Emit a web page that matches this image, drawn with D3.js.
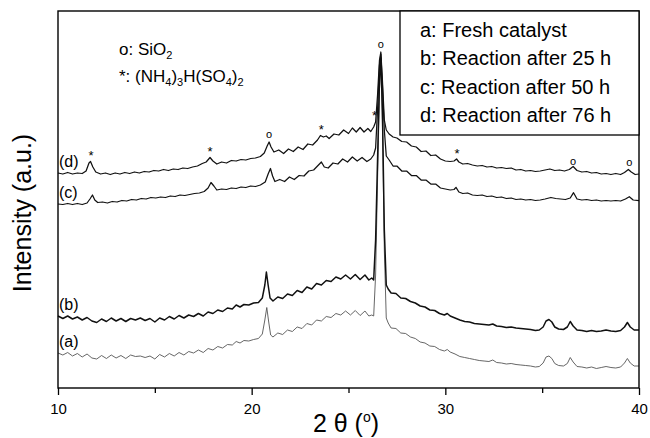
<!DOCTYPE html>
<html><head><meta charset="utf-8">
<script src="https://cdn.jsdelivr.net/npm/d3@7"></script>
<style>body{margin:0;background:#fff} svg{display:block} text{font-family:"Liberation Sans",Arial,sans-serif;fill:#000}</style>
</head><body><svg id="c" width="650" height="438"></svg>
<script>
// ---- data (2θ in degrees, intensity in arbitrary units) ----
const xTicks = [10, 20, 30, 40];
const xMinorTicks = [15, 25, 35];
const yDomain = [12, 389];
const legendLabels = ["a: Fresh catalyst", "b: Reaction after 25 h", "c: Reaction after 50 h", "d: Reaction after 76 h"];
const curveNames = ["(a)", "(b)", "(c)", "(d)"];
const curveLabelPos = [[10.05, 53], [10.05, 90], [10.05, 202], [10.05, 233]];

const curveA = [[10,47],[10.25,45],[10.5,47.5],[10.75,44],[11,46.5],[11.25,43],[11.5,46],[11.75,42],[12,41],[12.25,44.5],[12.5,41.5],[12.75,45],[13,42],[13.25,44.5],[13.5,41.5],[13.75,45],[14,43.5],[14.25,44],[14.5,42.5],[14.75,44],[15,41],[15.25,45.5],[15.5,43],[15.75,46.5],[16,44],[16.25,47.5],[16.5,45],[16.75,48.5],[17,47],[17.25,50],[17.5,47.5],[17.75,51.5],[18,50],[18.25,53.5],[18.5,52],[18.75,55.5],[19,55],[19.2,58.5],[19.4,57],[19.6,59.5],[19.85,59],[20.1,60.5],[20.35,61.5],[20.55,66],[20.68,80],[20.78,92.5],[20.88,78],[20.98,65],[21.1,63],[21.35,67],[21.6,65.5],[21.85,70],[22.1,68.5],[22.35,73],[22.6,71.5],[22.85,76.5],[23.1,75],[23.35,80],[23.6,79],[23.85,83.5],[24.1,82.5],[24.35,86.5],[24.6,85],[24.85,89],[25.1,85],[25.35,89.5],[25.6,84.5],[25.85,89],[26.05,84],[26.2,85],[26.3,84],[26.4,125],[26.5,220],[26.6,310],[26.67,338],[26.75,280],[26.85,150],[26.95,82],[27.05,77],[27.2,72],[27.45,71.5],[27.7,67],[27.95,66.5],[28.2,63],[28.45,61.5],[28.7,58],[28.95,57],[29.2,54],[29.45,53.5],[29.7,50.5],[29.95,49],[30.1,50.5],[30.25,48],[30.5,46],[30.75,43.5],[31,42.5],[31.25,41.5],[31.5,40.5],[31.75,39.5],[32,39],[32.25,38.5],[32.45,40],[32.65,37.5],[32.9,37],[33.15,36],[33.4,36.5],[33.65,35.5],[33.9,35],[34.15,34.5],[34.4,34],[34.65,33],[34.85,33.5],[35.05,37],[35.2,43],[35.35,44],[35.5,41.5],[35.65,36.5],[35.85,34.5],[36.1,34],[36.3,36.5],[36.45,42.5],[36.6,38],[36.8,33.5],[37.05,33],[37.3,32],[37.55,33],[37.8,31.5],[38.05,32.5],[38.3,33.5],[38.55,32.5],[38.8,32],[39.05,33],[39.25,37],[39.4,41.5],[39.55,37],[39.75,34],[40,34]];

const curveB = [[10,84],[10.25,81.5],[10.5,84],[10.75,81],[11,83],[11.25,80],[11.5,82.5],[11.75,79],[12,77.5],[12.25,81],[12.5,78.5],[12.75,82],[13,79],[13.25,81.5],[13.5,78.5],[13.75,81.5],[14,80],[14.25,82],[14.5,79.5],[14.75,81.5],[15,78],[15.25,82],[15.5,80],[15.75,83.5],[16,81],[16.25,84.5],[16.5,82],[16.75,85],[17,83.5],[17.25,86.5],[17.5,84],[17.75,88],[18,86.5],[18.25,90],[18.5,88.5],[18.75,92],[19,91],[19.2,95],[19.4,93],[19.6,95.5],[19.85,95],[20.1,97],[20.35,97.5],[20.55,102],[20.68,115],[20.76,128],[20.85,115],[20.95,102],[21.1,99],[21.35,103],[21.6,101.5],[21.85,106],[22.1,104.5],[22.35,109.5],[22.6,107.5],[22.85,113],[23.1,111],[23.35,116.5],[23.6,115],[23.85,119.5],[24.1,118.5],[24.35,123],[24.6,121],[24.85,125],[25.1,121],[25.35,125.5],[25.6,120.5],[25.85,125],[26.05,120],[26.2,122],[26.3,120],[26.4,160],[26.5,240],[26.6,320],[26.67,342],[26.75,290],[26.85,170],[26.95,115],[27.05,111],[27.2,107],[27.45,106.5],[27.7,102],[27.95,101.5],[28.2,98.5],[28.45,97],[28.7,94],[28.95,93],[29.2,90],[29.45,89.5],[29.7,86.5],[29.95,85],[30.1,86.5],[30.25,84],[30.5,82],[30.75,80],[31,78.5],[31.25,78],[31.5,76.5],[31.75,76],[32,75.5],[32.25,75],[32.45,76],[32.65,74],[32.9,73.5],[33.15,72.5],[33.4,73],[33.65,72],[33.9,71.5],[34.15,71],[34.4,70.5],[34.65,69.5],[34.85,70],[35.05,73],[35.2,79],[35.35,80.5],[35.5,78],[35.65,73],[35.85,71],[36.1,70.5],[36.3,73],[36.45,78.5],[36.6,74],[36.8,70],[37.05,69.5],[37.3,68.5],[37.55,69.5],[37.8,68.5],[38.05,69],[38.3,70],[38.55,69],[38.8,68.5],[39.05,69.5],[39.25,73],[39.4,77.5],[39.55,73],[39.75,70],[40,70]];

const curveC = [[10,196],[10.25,195.5],[10.5,196.5],[10.75,195.5],[11,196.5],[11.25,195.5],[11.5,197],[11.65,201],[11.78,205],[11.9,200],[12.05,197.5],[12.3,198],[12.55,197],[12.8,198.5],[13.05,198],[13.3,199.5],[13.55,199],[13.8,200.5],[14.05,200],[14.3,201.5],[14.55,201],[14.8,202.5],[15.05,202],[15.3,203],[15.55,202.5],[15.8,204],[16.05,203.5],[16.3,205],[16.55,204.5],[16.8,205.5],[17.05,206.5],[17.3,207],[17.55,208.5],[17.75,212],[17.9,217.5],[18.05,214],[18.2,210],[18.45,211],[18.7,210.5],[18.95,212],[19.2,211.5],[19.45,213],[19.7,212.5],[19.95,214],[20.2,213.5],[20.45,215],[20.7,218],[20.85,226],[20.97,231.5],[21.08,224],[21.2,218.5],[21.45,220.5],[21.7,218.5],[21.95,223],[22.2,220.5],[22.45,224.5],[22.7,224],[22.95,229],[23.2,230],[23.45,235],[23.6,238],[23.75,233],[23.95,232],[24.2,237],[24.45,236],[24.7,241],[24.95,238],[25.2,243],[25.45,239],[25.7,242.5],[25.95,238.5],[26.15,241],[26.3,245],[26.4,252],[26.5,290],[26.6,335],[26.67,346],[26.75,315],[26.85,270],[26.95,244],[27.1,240],[27.3,234],[27.5,234],[27.75,229],[28,229],[28.25,224.5],[28.5,224.5],[28.75,220],[29,220],[29.25,216],[29.5,216],[29.75,212],[30,211],[30.25,210],[30.45,210.5],[30.55,212.7],[30.7,208],[30.9,206.5],[31.15,207],[31.4,205],[31.65,204.5],[31.9,205],[32.15,203.5],[32.4,204],[32.65,202.5],[32.9,203],[33.15,201.5],[33.4,202],[33.65,200.5],[33.9,201],[34.15,200],[34.4,200.5],[34.65,199.5],[34.9,200],[35.15,201],[35.45,202.5],[35.7,201.5],[35.95,201],[36.2,200.5],[36.45,202],[36.62,207.3],[36.8,201],[37.05,200],[37.3,200.5],[37.55,199.5],[37.8,200],[38.05,199],[38.3,199.5],[38.55,199],[38.8,199.5],[39.05,199],[39.3,201],[39.5,203.3],[39.7,200],[40,199.3]];

const curveD = [[10,227],[10.25,226],[10.5,227.5],[10.75,226],[11,227],[11.25,226.5],[11.45,229],[11.6,237],[11.68,238.5],[11.8,233],[11.95,228],[12.2,226],[12.45,227],[12.7,225.5],[12.95,227],[13.2,226],[13.45,227.5],[13.7,226.5],[13.95,228],[14.2,227],[14.45,228.5],[14.7,228],[14.95,229.5],[15.2,229],[15.45,230.5],[15.7,229.5],[15.95,231],[16.2,230.5],[16.45,232],[16.7,231.5],[16.95,233],[17.2,234],[17.45,236.5],[17.65,238],[17.85,242.5],[18,239],[18.2,236],[18.45,238],[18.7,237],[18.95,239.5],[19.2,239],[19.45,240.5],[19.7,240],[19.95,241.5],[20.2,242],[20.45,243.5],[20.65,247],[20.8,254],[20.9,258],[21,253],[21.15,248],[21.4,250],[21.65,246.5],[21.9,251],[22.15,248.5],[22.4,253],[22.65,250.5],[22.9,256],[23.15,255],[23.4,260],[23.55,264.5],[23.7,263],[23.85,264],[24,261.5],[24.25,266],[24.5,265],[24.75,270],[25,266.5],[25.2,272],[25.4,268],[25.6,272.5],[25.8,268],[26,271.5],[26.15,268.5],[26.3,273],[26.4,278],[26.5,305],[26.6,340],[26.67,348],[26.75,320],[26.85,280],[26.95,270],[27.1,266],[27.3,263],[27.5,262],[27.75,258.5],[28,258],[28.25,254],[28.5,253],[28.75,248.5],[29,249],[29.25,244.5],[29.5,245],[29.75,241],[30,239],[30.25,238.5],[30.45,239],[30.58,241],[30.7,238],[30.9,236],[31.15,236.5],[31.4,235],[31.65,234],[31.9,234.5],[32.15,233],[32.4,233.5],[32.65,232],[32.9,232.5],[33.15,231.5],[33.4,232],[33.65,230],[33.9,230.5],[34.15,229],[34.4,229.5],[34.65,228.5],[34.9,229],[35.15,230],[35.4,231],[35.65,229.5],[35.9,230],[36.15,229],[36.4,230.5],[36.6,233.5],[36.8,229.5],[37.05,228],[37.3,228.5],[37.55,227],[37.8,227.5],[38.05,226],[38.3,226.5],[38.55,225.5],[38.8,226.5],[39.05,225.5],[39.25,227.5],[39.45,230.5],[39.6,228],[39.8,225.5],[40,226]];

// phase markers: symbol, 2θ, intensity of symbol centre
const markerSymbols = ["*", "*", "o", "*", "*", "o", "*", "o", "o"];
const markerX = [11.7, 17.85, 20.9, 23.6, 26.35, 26.67, 30.6, 36.6, 39.5];
const markerY = [247, 251, 265, 273, 287, 355, 249, 238, 237];

// ---- drawing ----
const svg = d3.select("#c");
const W = 650, H = 438;
const m = {l: 58, r: 11, t: 11, b: 50};
const x = d3.scaleLinear().domain([10, 40]).range([m.l, W - m.r]);
const y = d3.scaleLinear().domain(yDomain).range([H - m.b, m.t]);

const line = d3.line().x(d => x(d[0])).y(d => y(d[1]));
const curves = [curveA, curveB, curveC, curveD];
const styles = [
  {stroke: "#555", w: 0.9},
  {stroke: "#111", w: 1.5},
  {stroke: "#111", w: 1.25},
  {stroke: "#111", w: 1.25}
];
curves.forEach((c, i) => {
  svg.append("path").datum(c).attr("d", line)
    .attr("fill", "none").attr("stroke", styles[i].stroke)
    .attr("stroke-width", styles[i].w).attr("stroke-linejoin", "round");
});

// curve labels
svg.selectAll("text.cl").data(curveNames).enter().append("text")
  .attr("class", "cl")
  .attr("x", (d, i) => x(curveLabelPos[i][0]))
  .attr("y", (d, i) => y(curveLabelPos[i][1]))
  .attr("font-size", 16).text(d => d);

// markers
markerSymbols.forEach((s, i) => {
  svg.append("text")
    .attr("x", x(markerX[i]))
    .attr("y", y(markerY[i]) + (s === "*" ? 7 : 3))
    .attr("text-anchor", "middle")
    .attr("font-size", s === "*" ? 13 : 11)
    .style("fill", "#000")
    .text(s);
});

// axes
const ax = svg.append("g").attr("transform", `translate(0,${H - m.b})`)
  .call(d3.axisBottom(x).tickValues(xTicks).tickSize(7).tickPadding(8).tickFormat(d3.format("d")));
ax.select(".domain").remove();
ax.selectAll("line").attr("stroke", "#000").attr("stroke-width", 1.3);
ax.selectAll("text").attr("font-size", 15).attr("font-family", "Liberation Sans, Arial, sans-serif");
const axm = svg.append("g").attr("transform", `translate(0,${H - m.b})`)
  .call(d3.axisBottom(x).tickValues(xMinorTicks).tickSize(5).tickFormat(""));
axm.select(".domain").remove();
axm.selectAll("line").attr("stroke", "#000").attr("stroke-width", 1.3);

// frame
svg.append("rect").attr("x", m.l).attr("y", m.t)
  .attr("width", W - m.r - m.l).attr("height", H - m.b - m.t)
  .attr("fill", "none").attr("stroke", "#000").attr("stroke-width", 1.4);

// legend box
const lg = svg.append("g");
lg.append("rect").attr("x", 400).attr("y", m.t).attr("width", W - m.r - 400).attr("height", 124)
  .attr("fill", "#fff").attr("stroke", "#000").attr("stroke-width", 1.3);
lg.selectAll("text").data(legendLabels).enter().append("text")
  .attr("x", 420).attr("y", (d, i) => 37 + i * 28.3)
  .attr("font-size", 20).text(d => d);

// phase note
const n1 = svg.append("text").attr("x", 119).attr("y", 55).attr("font-size", 17);
n1.append("tspan").text("o: SiO");
n1.append("tspan").attr("font-size", 11).attr("dy", 4).text("2");
const n2 = svg.append("text").attr("x", 119).attr("y", 82).attr("font-size", 17);
n2.append("tspan").text("*: (NH");
n2.append("tspan").attr("font-size", 11).attr("dy", 4).text("4");
n2.append("tspan").attr("dy", -4).text(")");
n2.append("tspan").attr("font-size", 11).attr("dy", 4).text("3");
n2.append("tspan").attr("dy", -4).text("H(SO");
n2.append("tspan").attr("font-size", 11).attr("dy", 4).text("4");
n2.append("tspan").attr("dy", -4).text(")");
n2.append("tspan").attr("font-size", 11).attr("dy", 4).text("2");

// axis titles
const xt = svg.append("text").attr("x", 346).attr("y", 432).attr("text-anchor", "middle").attr("font-size", 25);
xt.append("tspan").text("2 θ (");
xt.append("tspan").attr("font-size", 14).attr("dy", -10).text("o");
xt.append("tspan").attr("dy", 10).text(")");

svg.append("text").attr("transform", "translate(31,213) rotate(-90)")
  .attr("text-anchor", "middle").attr("font-size", 25).text("Intensity (a.u.)");
</script></body></html>
